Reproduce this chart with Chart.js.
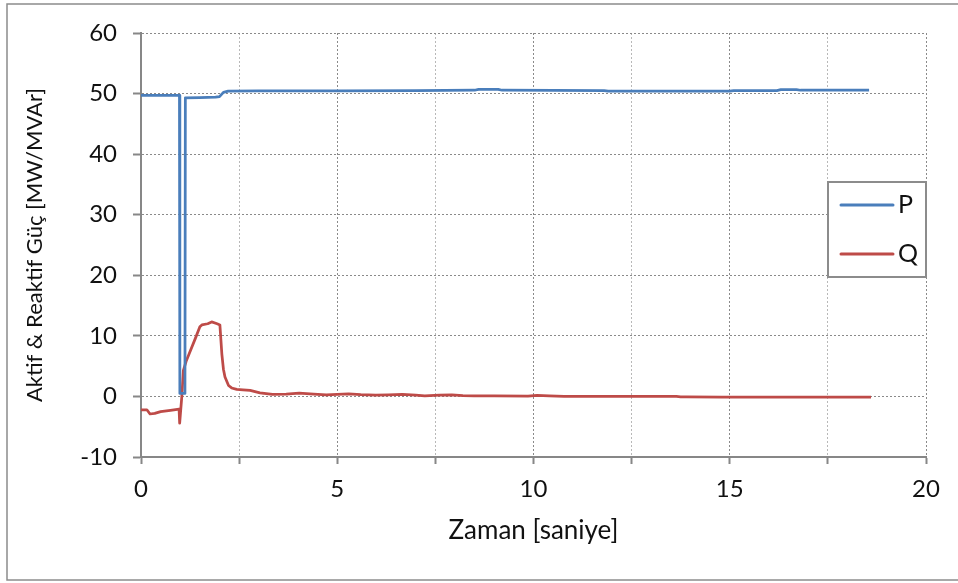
<!DOCTYPE html>
<html>
<head>
<meta charset="utf-8">
<script src="https://cdn.jsdelivr.net/npm/chart.js@4/dist/chart.umd.min.js"></script>
<style>
  html, body { margin: 0; padding: 0; background: #ffffff; }
  #wrap { width: 958px; height: 583px; position: relative; }
</style>
</head>
<body>
<div id="wrap"><canvas id="c" width="958" height="583"></canvas></div>
<script>
// Active power P (MW) samples over time (s)
const timeP = [0, 0.98, 0.99, 1.12, 1.13, 1.5, 1.9, 2.0, 2.1, 2.22, 3, 5, 7, 8.5, 8.6, 9.1, 9.2, 11.8, 11.9, 15.0, 15.1, 16.2, 16.3, 16.7, 16.8, 18.55];
const valuesP = [49.7, 49.7, 0.5, 0.5, 49.3, 49.35, 49.4, 49.5, 50.2, 50.4, 50.45, 50.45, 50.5, 50.55, 50.7, 50.7, 50.55, 50.5, 50.4, 50.4, 50.5, 50.5, 50.65, 50.65, 50.55, 50.55];

// Reactive power Q (MVAr) samples over time (s)
const timeQ = [0, 0.15, 0.23, 0.35, 0.5, 0.75, 0.97, 0.98, 0.99, 1.04, 1.08, 1.15, 1.23, 1.38, 1.5, 1.55, 1.7, 1.8, 1.94, 2.01, 2.06, 2.1, 2.14, 2.23, 2.31, 2.44, 2.6, 2.78, 3.03, 3.35, 3.7, 4.03, 4.4, 4.72, 5.0, 5.29, 5.6, 5.98, 6.3, 6.66, 7.0, 7.23, 7.6, 7.92, 8.2, 8.49, 9.0, 9.86, 10.09, 10.4, 10.78, 11.5, 12.5, 13.64, 13.75, 13.9, 14.78, 16, 17.5, 18.6];
const valuesQ = [-2.2, -2.2, -2.9, -2.8, -2.5, -2.3, -2.1, -2.1, -4.4, 0.0, 4.3, 5.8, 7.1, 9.5, 11.5, 11.8, 12.0, 12.3, 12.0, 11.8, 7.0, 4.5, 3.2, 1.8, 1.4, 1.16, 1.1, 1.0, 0.6, 0.33, 0.4, 0.55, 0.4, 0.27, 0.35, 0.44, 0.3, 0.22, 0.25, 0.33, 0.2, 0.11, 0.2, 0.27, 0.15, 0.11, 0.08, 0.05, 0.16, 0.08, 0.0, 0.0, 0.0, 0.0, -0.06, -0.08, -0.1, -0.1, -0.1, -0.1];

// Axis settings
const xTicks = { min: 0, max: 20, step: 2.5, labelEvery: 5 };
const yTicks = { min: -10, max: 60, step: 10 };
const seriesNames = ['P', 'Q'];
const xTitle = 'Zaman [saniye]';
const yTitle = 'Aktif & Reaktif Güç [MW/MVAr]';

const FONT = 'Lato, "Open Sans", sans-serif';
const WEIGHT = 400;
const AXIS_GREY = '#878787';

const toPoints = (xs, ys) => xs.map((x, i) => ({ x, y: ys[i] }));

// Outer frame around the whole chart
const framePlugin = {
  id: 'frame',
  beforeDraw(chart) {
    const ctx = chart.ctx;
    ctx.save();
    ctx.fillStyle = '#ffffff';
    ctx.fillRect(0, 0, chart.width, chart.height);
    ctx.strokeStyle = '#8c8c8c';
    ctx.lineWidth = 1.5;
    ctx.strokeRect(7, 4, chart.width + 10, 576);
    ctx.restore();
  }
};

// Boxed legend drawn inside the right side of the plot
const boxLegendPlugin = {
  id: 'boxLegend',
  afterDraw(chart, args, opts) {
    const ctx = chart.ctx;
    const { left, top, width, height, rowGap, lineLen, lineInset } = opts;
    ctx.save();
    ctx.fillStyle = '#ffffff';
    ctx.fillRect(left, top, width, height);
    ctx.strokeStyle = '#8c8c8c';
    ctx.lineWidth = 2;
    ctx.strokeRect(left, top, width, height);
    ctx.font = WEIGHT + ' 25px ' + FONT;
    ctx.textBaseline = 'middle';
    ctx.textAlign = 'left';
    chart.data.datasets.forEach((ds, i) => {
      const y = top + 23 + i * rowGap;
      ctx.strokeStyle = ds.borderColor;
      ctx.lineWidth = 3;
      ctx.lineCap = 'round';
      ctx.beginPath();
      ctx.moveTo(left + lineInset, y);
      ctx.lineTo(left + lineInset + lineLen, y);
      ctx.stroke();
      ctx.fillStyle = '#111111';
      ctx.fillText(ds.label, left + lineInset + lineLen + 5, y);
    });
    ctx.restore();
  }
};

new Chart(document.getElementById('c'), {
  type: 'line',
  data: {
    datasets: [
      {
        label: seriesNames[0],
        data: toPoints(timeP, valuesP),
        borderColor: '#4a7ebb',
        borderWidth: 2.75,
        pointRadius: 0,
        tension: 0,
        borderJoinStyle: 'round',
        fill: false
      },
      {
        label: seriesNames[1],
        data: toPoints(timeQ, valuesQ),
        borderColor: '#be4b48',
        borderWidth: 2.75,
        pointRadius: 0,
        tension: 0,
        borderJoinStyle: 'round',
        fill: false
      }
    ]
  },
  options: {
    responsive: false,
    animation: false,
    events: [],
    layout: { padding: { top: 33, right: 32, left: 0, bottom: 0 } },
    plugins: {
      legend: { display: false },
      tooltip: { enabled: false },
      boxLegend: { left: 828, top: 182, width: 98, height: 95, rowGap: 49, lineLen: 52, lineInset: 13 }
    },
    scales: {
      x: {
        type: 'linear',
        min: xTicks.min,
        max: xTicks.max,
        afterFit(scale) { scale.height = 126; },
        ticks: {
          stepSize: xTicks.step,
          autoSkip: false,
          maxRotation: 0,
          padding: 11,
          color: '#111111',
          font: { family: FONT, size: 24, weight: WEIGHT },
          callback: v => (v % xTicks.labelEvery === 0 ? String(v) : '')
        },
        grid: {
          color: c => (c.tick && c.tick.value % xTicks.labelEvery === 0 ? '#8a8a8a' : '#b8b8b8'),
          lineWidth: 1,
          tickLength: 7,
          tickColor: AXIS_GREY,
          tickWidth: 2
        },
        border: { display: true, color: AXIS_GREY, width: 2, dash: [2, 2] },
        title: {
          display: true,
          text: xTitle,
          color: '#111111',
          font: { family: FONT, size: 26, weight: WEIGHT },
          padding: { top: 0, bottom: 37 }
        }
      },
      y: {
        type: 'linear',
        min: yTicks.min,
        max: yTicks.max,
        afterFit(scale) { scale.width = 141; },
        ticks: {
          stepSize: yTicks.step,
          padding: 16,
          color: '#111111',
          font: { family: FONT, size: 24, weight: WEIGHT }
        },
        grid: {
          color: '#8a8a8a',
          lineWidth: 1,
          tickLength: 8,
          tickColor: AXIS_GREY,
          tickWidth: 2
        },
        border: { display: true, color: AXIS_GREY, width: 2, dash: [2, 2] },
        title: {
          display: true,
          text: yTitle,
          color: '#111111',
          font: { family: FONT, size: 22, weight: WEIGHT },
          padding: { top: 22, bottom: 0 }
        }
      }
    }
  },
  plugins: [framePlugin, boxLegendPlugin]
});
</script>
</body>
</html>
